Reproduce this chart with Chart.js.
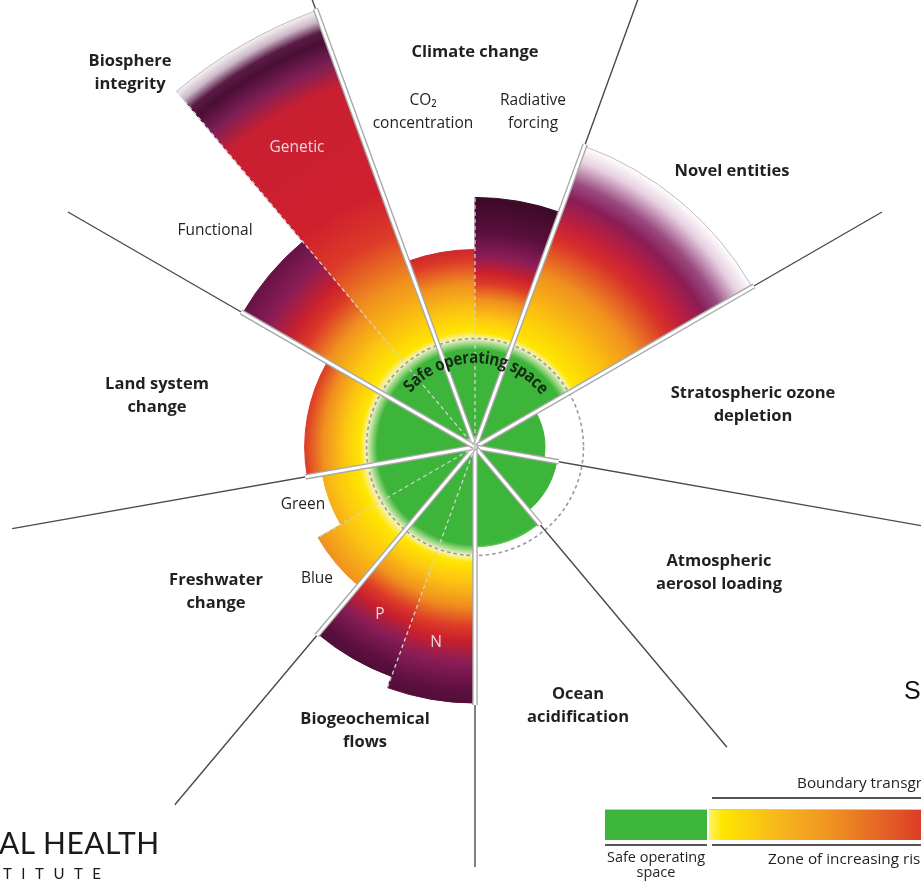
<!DOCTYPE html>
<html>
<head>
<meta charset="utf-8">
<script src="https://cdn.jsdelivr.net/npm/chart.js@4.4.0/dist/chart.umd.min.js"></script>
<style>
  html, body { margin: 0; padding: 0; background: #fff; overflow: hidden; width: 921px; height: 881px; }
  #wrap { position: relative; width: 921px; height: 881px; overflow: hidden; }
  canvas { position: absolute; left: 0; top: 0; }
  .lbl { position: absolute; transform: translate(-50%, -50%); text-align: center; white-space: nowrap;
         font-family: 'Open Sans', sans-serif; color: #231f20; }
  .b { font-weight: 700; font-size: 16.5px; line-height: 23px; }
  .r { font-weight: 400; font-size: 15.5px; line-height: 23px; }
  .abs { position: absolute; white-space: nowrap; }
</style>
</head>
<body>
<div id="wrap">
  <canvas id="myChart" width="921" height="881"></canvas>
  <div id="labels"></div>

  <!-- legend, bottom right -->
  <div class="abs" style="left:797px;top:772px;font:15.3px 'Open Sans',sans-serif;color:#231f20;">Boundary transgression</div>
  <div class="abs" style="left:712px;top:797px;width:260px;height:2px;background:#555;"></div>
  <div class="abs" style="left:605px;top:809px;width:102px;height:30px;background:#3db53a;border-top:1px solid #c8c8c8;"></div>
  <div class="abs" style="left:709px;top:809px;width:430px;height:30px;border-top:1px solid #c8c8c8;
       background:linear-gradient(to right,#fff36a 0%,#ffe600 3%,#f7b81c 16%,#ee8d22 30%,#dc3a28 50%,#8a1d57 75%,#3e0a28 100%);"></div>
  <div class="abs" style="left:605px;top:844px;width:102px;height:2px;background:#555;"></div>
  <div class="abs" style="left:712px;top:844px;width:260px;height:2px;background:#555;"></div>
  <div class="abs" style="left:656px;top:849px;transform:translateX(-50%);text-align:center;font:14.5px/15px 'Open Sans',sans-serif;color:#231f20;">Safe operating<br>space</div>
  <div class="abs" style="left:768px;top:848px;font:15.3px 'Open Sans',sans-serif;color:#231f20;">Zone of increasing risk</div>

  <div class="abs" style="left:904px;top:676px;font:25px 'Liberation Sans',Arial,sans-serif;color:#111;">S</div>

  <!-- logo, bottom left -->
  <div class="abs" style="left:-1px;top:824px;font:30px 'Lato',sans-serif;color:#1a1a1a;letter-spacing:0.5px;">AL HEALTH</div>
  <div class="abs" style="left:3px;top:864px;font:15px 'Lato',sans-serif;color:#1a1a1a;letter-spacing:9.5px;">TITUTE</div>
</div>

<script>
// planetary boundaries, values relative to the boundary (1 = edge of safe operating space)
var segments = ['CO₂ concentration', 'Radiative forcing', 'Novel entities', 'Stratospheric ozone depletion',
    'Atmospheric aerosol loading', 'Ocean acidification', 'N', 'P', 'Blue', 'Green',
    'Land system change', 'Functional', 'Genetic'];
var segmentValues = [1.82, 2.30, 2.95, 0.645, 0.765, 0.92, 2.36, 2.25, 1.67, 1.43, 1.57, 2.47, 4.28];
// how many 20 degree slots each segment takes (9 boundaries x 40 degrees)
var segmentSlots = [1, 1, 2, 2, 2, 2, 1, 1, 1, 1, 2, 1, 1];
var boundaryValue = 1;

// expand to equal slices for the polar area chart
var sliceLabels = [], sliceValues = [], sliceSeg = [];
segments.forEach(function (s, i) {
    for (var k = 0; k < segmentSlots[i]; k++) {
        sliceLabels.push(s);
        sliceValues.push(segmentValues[i]);
        sliceSeg.push(i);
    }
});

var GREEN = '#3db53a';
var riskStops = [[1.0, '#f4f3c4'], [1.06, '#ffe600'], [1.22, '#fcc512'], [1.42, '#f0901f'], [1.6, '#dc3a28'],
    [1.72, '#c8202d'], [1.9, '#8a1d57'], [2.15, '#5a0f3e'], [2.5, '#3e0a28']];
// per segment stretch of the risk colours
var stretch = [1.2, 0.85, 1, 1, 1, 1, 1.1, 1.0, 1.6, 1.4, 0.95, 1.35, 1];
var customStops = {
    2: [[1.0, '#f4f3c4'], [1.06, '#ffe600'], [1.35, '#fbc20f'], [1.7, '#f0901f'], [2.05, '#d8302a'], [2.2, '#c4203a'],
        [2.45, '#8a1d57'], [2.6, '#9a4a80'], [2.8, '#e6cfe0'], [2.95, '#ffffff']],
    12: [[1.0, '#f4f3c4'], [1.06, '#ffe600'], [1.3, '#fbc20f'], [1.65, '#f0901f'], [2.1, '#dc3a28'], [2.5, '#d0202e'],
        [3.55, '#c81f32'], [3.78, '#7e1f56'], [3.98, '#4a0e36'], [4.08, '#5a1c46'], [4.18, '#cbb6c6'], [4.3, '#ffffff']]
};

function stopsFor(seg) {
    var tail = customStops[seg] || riskStops.map(function (s) {
        return [1 + (s[0] - 1) * stretch[seg], s[1]];
    });
    return [[0, GREEN], [0.9, GREEN], [0.96, '#a6db8e']].concat(tail);
}

function sliceFill(c) {
    var chart = c.chart, sc = chart.scales.r;
    if (!sc || !isFinite(sc.xCenter) || c.dataIndex === undefined) return GREEN;
    var stops = stopsFor(sliceSeg[c.dataIndex]);
    var vmax = stops[stops.length - 1][0];
    var R = sc.getDistanceFromCenterForValue(vmax);
    var g = chart.ctx.createRadialGradient(sc.xCenter, sc.yCenter, 0, sc.xCenter, sc.yCenter, R);
    stops.forEach(function (s) { g.addColorStop(Math.min(1, s[0] / vmax), s[1]); });
    return g;
}

var dividerAngles = [-20, 20, 60, 100, 140, 180, 220, 260, 300];
var dividerLength = [480, 480, 470, 480, 392, 420, 467, 470, 470];
var subAngles = [0, 200, 240, 320];
// open-ended segments get a thin outer outline: [from deg, to deg, slice]
var outlined = [[20, 60, 2], [320, 340, 17]];

var labels = [
    ['Biosphere<br>integrity', 130, 71, 'b'],
    ['Climate change', 475, 50, 'b'],
    ['CO₂<br>concentration', 423, 111, 'r'],
    ['Radiative<br>forcing', 533, 111, 'r'],
    ['Novel entities', 732, 169, 'b'],
    ['Functional', 215, 229, 'r'],
    ['Land system<br>change', 157, 394, 'b'],
    ['Stratospheric ozone<br>depletion', 753, 403, 'b'],
    ['Green', 303, 503, 'r'],
    ['Blue', 317, 577, 'r'],
    ['Freshwater<br>change', 216, 590, 'b'],
    ['Atmospheric<br>aerosol loading', 719, 571, 'b'],
    ['Ocean<br>acidification', 578, 704, 'b'],
    ['Biogeochemical<br>flows', 365, 729, 'b']
];
var onBar = [['Genetic', 297, 146], ['P', 380, 613], ['N', 436, 641]];

var box = document.getElementById('labels');
labels.forEach(function (l) {
    var d = document.createElement('div');
    d.className = 'lbl ' + l[3];
    d.style.left = l[1] + 'px';
    d.style.top = l[2] + 'px';
    d.innerHTML = l[0];
    box.appendChild(d);
});
onBar.forEach(function (l) {
    var d = document.createElement('div');
    d.className = 'lbl r';
    d.style.left = l[1] + 'px';
    d.style.top = l[2] + 'px';
    d.style.color = '#e8d6dc';
    d.textContent = l[0];
    box.appendChild(d);
});

function pt(sc, deg, r) {
    var a = deg * Math.PI / 180;
    return [sc.xCenter + r * Math.sin(a), sc.yCenter - r * Math.cos(a)];
}
function sliceR(sc, i) {
    i = (i + sliceValues.length) % sliceValues.length;
    return sc.getDistanceFromCenterForValue(sliceValues[i]);
}

var overlay = {
    id: 'overlay',
    afterDatasetsDraw: function (chart) {
        var ctx = chart.ctx, sc = chart.scales.r;
        var cx = sc.xCenter, cy = sc.yCenter;
        ctx.save();

        // boundary circle
        ctx.beginPath();
        ctx.setLineDash([3.5, 3]);
        ctx.strokeStyle = '#9a9a9a';
        ctx.lineWidth = 1.6;
        ctx.arc(cx, cy, sc.getDistanceFromCenterForValue(boundaryValue), 0, Math.PI * 2);
        ctx.stroke();
        ctx.setLineDash([]);

        outlined.forEach(function (o) {
            ctx.beginPath();
            ctx.strokeStyle = '#bdbdbd';
            ctx.lineWidth = 1;
            ctx.arc(cx, cy, sliceR(sc, o[2]), (o[0] - 90) * Math.PI / 180, (o[1] - 90) * Math.PI / 180);
            ctx.stroke();
        });

        // dividers between boundaries
        dividerAngles.forEach(function (deg, j) {
            var slot = j * 2;
            var rMax = Math.max(sliceR(sc, slot - 1), sliceR(sc, slot)) + 2;
            var p0 = pt(sc, deg, 0), pl = pt(sc, deg, dividerLength[j]), pm = pt(sc, deg, rMax);
            ctx.beginPath();
            ctx.strokeStyle = '#4a4a4a';
            ctx.lineWidth = 1.4;
            ctx.moveTo(p0[0], p0[1]);
            ctx.lineTo(pl[0], pl[1]);
            ctx.stroke();
            ctx.beginPath();
            ctx.strokeStyle = '#a8a8a8';
            ctx.lineWidth = 5.5;
            ctx.moveTo(p0[0], p0[1]);
            ctx.lineTo(pm[0], pm[1]);
            ctx.stroke();
            ctx.beginPath();
            ctx.strokeStyle = '#ffffff';
            ctx.lineWidth = 2.8;
            ctx.moveTo(p0[0], p0[1]);
            ctx.lineTo(pm[0], pm[1]);
            ctx.stroke();
        });

        // dashed split inside a boundary
        ctx.setLineDash([4, 3]);
        subAngles.forEach(function (deg) {
            var slot = (deg + 20) / 20;
            var r = Math.max(sliceR(sc, slot - 1), sliceR(sc, slot));
            var p0 = pt(sc, deg, 0), p1 = pt(sc, deg, r);
            ctx.beginPath();
            ctx.strokeStyle = '#d2d2d2';
            ctx.lineWidth = 1.3;
            ctx.moveTo(p0[0], p0[1]);
            ctx.lineTo(p1[0], p1[1]);
            ctx.stroke();
        });
        ctx.setLineDash([]);

        // curved "Safe operating space"
        var text = 'Safe operating space';
        var rb = 84, span = 102 * Math.PI / 180, mid = 1 * Math.PI / 180, hs = 0.88;
        ctx.font = '700 17px "Open Sans", sans-serif';
        ctx.fillStyle = '#152a15';
        ctx.textAlign = 'center';
        ctx.textBaseline = 'alphabetic';
        var widths = text.split('').map(function (ch) { return ctx.measureText(ch).width * hs; });
        var total = widths.reduce(function (a, b) { return a + b; }, 0);
        var extra = (rb * span - total) / (text.length - 1);
        var off = 0, start = mid - span / 2;
        text.split('').forEach(function (ch, k) {
            var phi = start + (off + widths[k] / 2) / rb;
            ctx.save();
            ctx.translate(cx, cy);
            ctx.rotate(phi);
            ctx.translate(0, -rb);
            ctx.scale(hs, 1);
            ctx.fillText(ch, 0, 0);
            ctx.restore();
            off += widths[k] + extra;
        });

        ctx.restore();
    }
};

document.addEventListener('DOMContentLoaded', function () {
    var ctx = document.getElementById('myChart').getContext('2d');

    var myChart = new Chart(ctx, {
        type: 'polarArea',
        data: {
            labels: sliceLabels,
            datasets: [{
                data: sliceValues,
                backgroundColor: sliceFill,
                borderColor: sliceFill,
                borderWidth: 1,
                clip: false
            }]
        },
        options: {
            responsive: false,
            animation: false,
            events: [],
            layout: { padding: { left: 29, top: 13, right: 0, bottom: 0 } },
            scales: {
                r: { display: false, min: 0, max: 4, startAngle: -20 }
            },
            plugins: {
                legend: { display: false },
                tooltip: { enabled: false }
            }
        },
        plugins: [overlay]
    });
});
</script>
</body>
</html>
